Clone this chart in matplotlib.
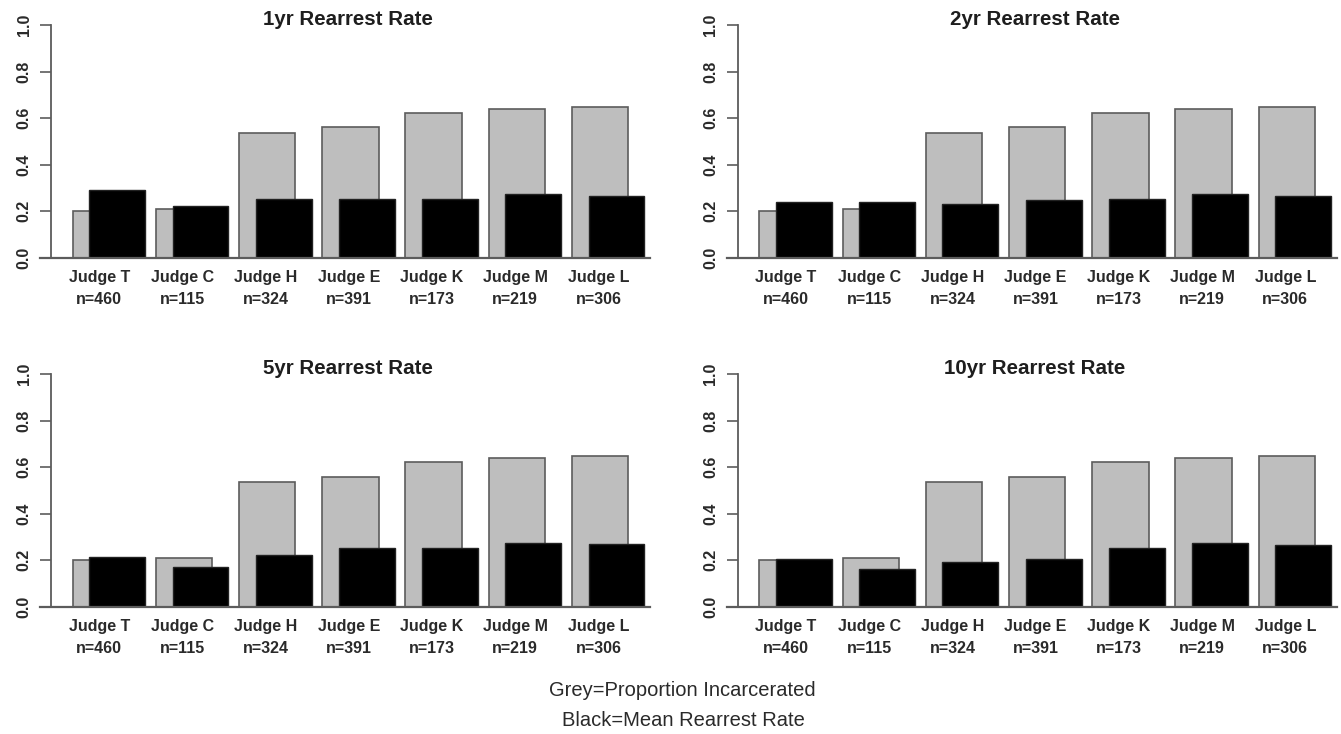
import matplotlib
matplotlib.use("Agg")
import matplotlib.pyplot as plt

plt.rcParams['font.family'] = ['Liberation Sans', 'DejaVu Sans']

judges = ['Judge T', 'Judge C', 'Judge H', 'Judge E', 'Judge K', 'Judge M', 'Judge L']
n_cases = [460, 115, 324, 391, 173, 219, 306]
prop_incarcerated = [0.202, 0.208, 0.537, 0.560, 0.621, 0.638, 0.649]
rearrest_1yr = [0.291, 0.222, 0.252, 0.252, 0.251, 0.275, 0.266]
rearrest_2yr = [0.239, 0.239, 0.229, 0.246, 0.251, 0.275, 0.266]
rearrest_5yr = [0.215, 0.172, 0.223, 0.252, 0.252, 0.276, 0.268]
rearrest_10yr = [0.206, 0.161, 0.194, 0.206, 0.251, 0.274, 0.267]
titles = ['1yr Rearrest Rate', '2yr Rearrest Rate', '5yr Rearrest Rate', '10yr Rearrest Rate']
yticks = [0.0, 0.2, 0.4, 0.6, 0.8, 1.0]
ytick_labels = ['0.0', '0.2', '0.4', '0.6', '0.8', '1.0']
footer = ['Grey=Proportion Incarcerated', 'Black=Mean Rearrest Rate']

series = [rearrest_1yr, rearrest_2yr, rearrest_5yr, rearrest_10yr]
labels = [f'{j}\nn={n}' for j, n in zip(judges, n_cases)]

W, H = 1341, 734
fig = plt.figure(figsize=(W / 100, H / 100), dpi=100)

axcol = '#5c5c5c'
txtcol = '#2a2a2a'
lefts = [40, 726.7, 40, 726.7]
bottoms = [257.7, 257.7, 606.7, 606.7]
tops = [25, 25, 374.3, 374.3]
width_px = 610

for k in range(4):
    ax = fig.add_axes([lefts[k] / W, (H - bottoms[k]) / H, width_px / W, (bottoms[k] - tops[k]) / H])
    x = list(range(len(judges)))
    ax.bar(x, prop_incarcerated, width=0.677, align='edge', color='#bebebe',
           edgecolor=axcol, linewidth=1.2, zorder=2)
    ax.bar([i + 0.2 for i in x], series[k], width=0.672, align='edge', color='black',
           edgecolor='#222222', linewidth=1.0, zorder=3)
    ax.set_xlim(-0.393, 6.939)
    ax.set_ylim(0, 1.0)
    for s in ['top', 'right']:
        ax.spines[s].set_visible(False)
    ax.spines['left'].set_position(('data', -0.26))
    ax.spines['left'].set_bounds(0, 1)
    ax.spines['left'].set_color(axcol)
    ax.spines['bottom'].set_color(axcol)
    ax.spines['left'].set_linewidth(1.3)
    ax.spines['bottom'].set_linewidth(1.6)
    ax.spines['bottom'].set_zorder(4)
    ax.set_yticks(yticks)
    ax.set_yticklabels(ytick_labels, rotation=90, va='center', fontsize=11.5,
                       fontweight='bold', color=txtcol)
    ax.tick_params(axis='y', length=8, width=1.2, color=axcol, pad=6)
    ax.set_xticks([i + 0.32 for i in x])
    ax.set_xticklabels(labels, fontsize=11.5, fontweight='bold', color=txtcol, linespacing=1.6)
    ax.tick_params(axis='x', length=0, pad=9)
    ax.set_facecolor('none')
    ax.text(0.505, 1.0, titles[k], transform=ax.transAxes, ha='center', va='baseline',
            fontsize=14.8, fontweight='bold', color='#1e1e1e')

fig.text(682.5 / W, (H - 691) / H, footer[0], ha='center', va='center', fontsize=14.5, color=txtcol)
fig.text(683 / W, (H - 721) / H, footer[1], ha='center', va='center', fontsize=14.5, color=txtcol)

fig.savefig('out.png', dpi=100)
